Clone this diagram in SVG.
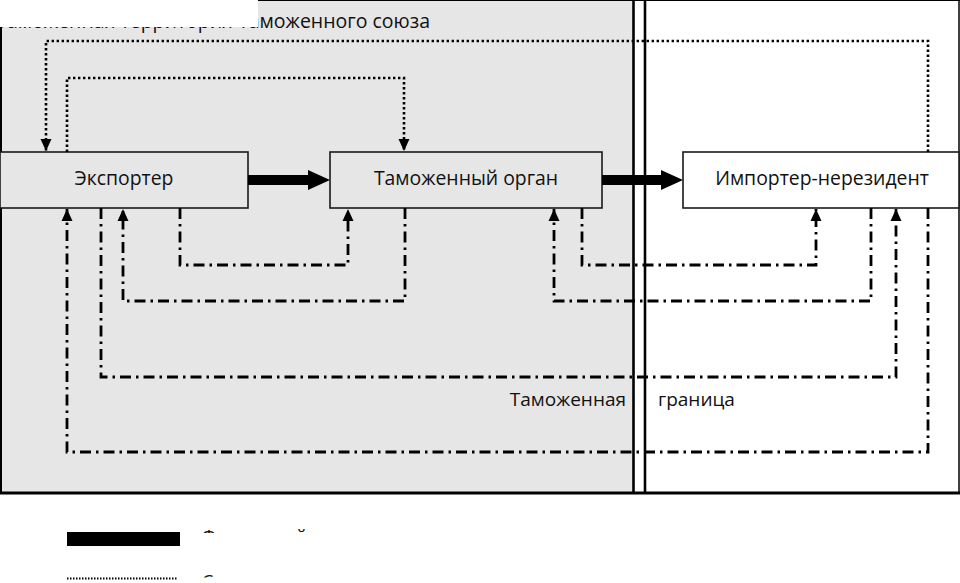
<svg xmlns="http://www.w3.org/2000/svg" width="960" height="583" viewBox="0 0 960 583">
<style>
  text { font-family: "Open Sans", "Noto Sans", "DejaVu Sans", sans-serif; fill: #111; }
  .lbl { font-size: 19.4px; text-anchor: middle; }
  .box { stroke: #1a1a1a; stroke-width: 1.6; }
  .dot { fill: none; stroke: #000; stroke-width: 2.6; stroke-dasharray: 2.4 2.6; }
  .dd { fill: none; stroke: #000; stroke-width: 2.8; stroke-dasharray: 11 5 2.5 5; }
  .frame { stroke: #000; fill: none; }
</style>
<defs>
  <marker id="ah" markerUnits="userSpaceOnUse" markerWidth="12" markerHeight="12" refX="12" refY="5.5" orient="auto" viewBox="0 0 12 11">
    <path d="M0,0 L12,5.5 L0,11 z" fill="#000"/>
  </marker>
  <clipPath id="clipL1"><rect x="190" y="515" width="400" height="18"/></clipPath>
  <clipPath id="clipL2"><rect x="190" y="565" width="400" height="12.5"/></clipPath>
</defs>

<g id="background">
  <rect x="0" y="0" width="633" height="493" fill="#e6e6e6"/>
  <rect x="633" y="0" width="327" height="493" fill="#fff"/>
</g>

<g id="title">
  <text x="430" y="28" font-size="19.5" text-anchor="end">Таможенная территория Таможенного союза</text>
  <rect x="0" y="0" width="258" height="27" fill="#fff"/>
</g>

<g id="frame">
  <line class="frame" x1="258" y1="0.5" x2="960" y2="0.5" stroke="#444" stroke-width="1.2"/>
  <line class="frame" x1="1" y1="27" x2="1" y2="493" stroke-width="2"/>
  <line class="frame" x1="959" y1="0" x2="959" y2="493" stroke-width="1.5"/>
  <line class="frame" x1="633.5" y1="0" x2="633.5" y2="493" stroke-width="2.6"/>
  <line class="frame" x1="645" y1="0" x2="645" y2="493" stroke-width="2.6"/>
  <line class="frame" x1="0" y1="493" x2="960" y2="493" stroke-width="3"/>
</g>

<g id="border-label">
  <text x="626" y="406" font-size="19" text-anchor="end">Таможенная</text>
  <text x="658" y="406" font-size="19">граница</text>
</g>

<g id="exporter">
  <rect class="box" x="0" y="152" width="248" height="56" fill="#e6e6e6"/>
  <text class="lbl" x="124" y="185">Экспортер</text>
</g>

<g id="customs">
  <rect class="box" x="330" y="152" width="272" height="56" fill="#e6e6e6"/>
  <text class="lbl" x="466" y="185">Таможенный орган</text>
</g>

<g id="importer">
  <rect class="box" x="683" y="152" width="276" height="56" fill="#fff"/>
  <text class="lbl" x="822" y="185">Импортер-нерезидент</text>
</g>

<g id="connectors">
  <path d="M248,175 H308 V170 L330,180 L308,190 V185 H248 z" fill="#000"/>
  <path d="M602,175 H661 V170 L683,180 L661,190 V185 H602 z" fill="#000"/>

  <path class="dot" d="M928,152 V41 H46 V151" marker-end="url(#ah)"/>
  <path class="dot" d="M67,152 V78 H404 V151" marker-end="url(#ah)"/>

  <path class="dd" d="M928,208 V452 H67 V209" marker-end="url(#ah)"/>
  <path class="dd" d="M101,208 V377 H896 V209" marker-end="url(#ah)"/>
  <path class="dd" d="M405,208 V301 H123 V209" marker-end="url(#ah)"/>
  <path class="dd" d="M180,208 V265 H348 V209" marker-end="url(#ah)"/>
  <path class="dd" d="M871,208 V301 H554 V209" marker-end="url(#ah)"/>
  <path class="dd" d="M582,208 V265 H816 V209" marker-end="url(#ah)"/>
</g>

<g id="legend">
  <rect x="67" y="532" width="113" height="14" fill="#000"/>
  <line x1="67" y1="578.5" x2="178" y2="578.5" stroke="#000" stroke-width="2" stroke-dasharray="1.5 1.5"/>
  <g clip-path="url(#clipL1)">
    <text x="202" y="543" font-size="17.5">Физический поток</text>
  </g>
  <g clip-path="url(#clipL2)">
    <text x="202" y="588" font-size="18">Сопроводительные документы</text>
  </g>
</g>
</svg>
